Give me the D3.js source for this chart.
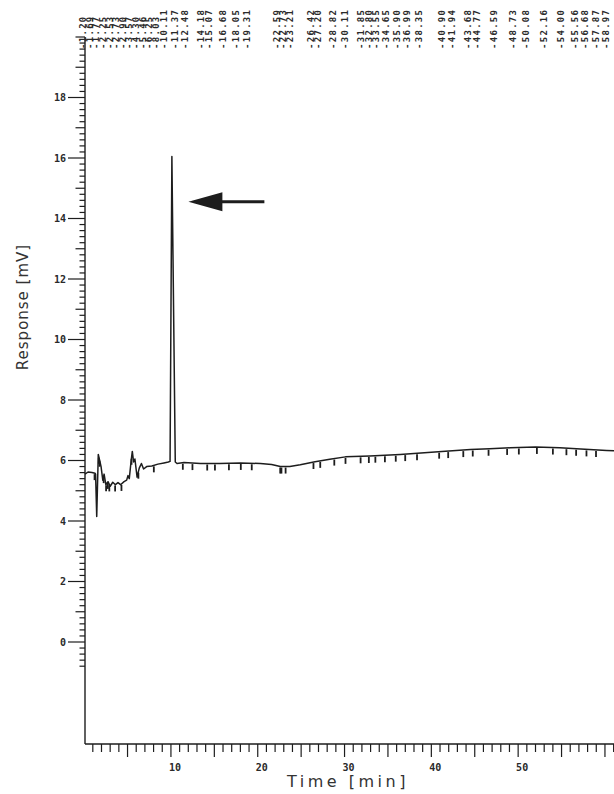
<!DOCTYPE html>
<html>
<head>
<meta charset="utf-8">
<script src="https://cdn.jsdelivr.net/npm/d3@7"></script>
<style>
  html, body { margin: 0; padding: 0; background: #fff; }
  svg { display: block; }
</style>
</head>
<body>
<svg id="chart" width="614" height="794"></svg>
<script>
// Detector trace: retention time (min) and response (mV)
const traceTime = [
  0.10, 0.45, 0.90, 1.25, 1.32, 1.45, 1.63, 1.83, 1.95, 2.15, 2.30, 2.50, 2.75,
  3.00, 3.30, 3.60, 3.90, 4.20, 4.60, 4.90, 5.05, 5.20, 5.40, 5.55, 5.70, 5.85,
  6.10, 6.35, 6.60, 6.85, 7.20, 7.80, 8.50, 9.20, 9.70, 9.90, 10.11, 10.50,
  10.70, 11.50, 13.40, 15.60, 18.00, 20.30, 21.60, 22.60, 23.70, 24.90, 26.60,
  28.30, 30.10, 32.90, 36.40, 40.80, 44.50, 46.70, 49.10, 52.00, 54.80, 57.70,
  60.20, 61.10
];
const traceResponse = [
  5.55, 5.62, 5.60, 5.58, 5.55, 4.15, 6.20, 5.95, 5.80, 5.35, 5.55, 5.20, 5.30,
  5.15, 5.28, 5.20, 5.27, 5.20, 5.30, 5.35, 5.50, 5.40, 5.95, 6.30, 5.95, 6.05,
  5.45, 5.75, 5.90, 5.72, 5.80, 5.82, 5.88, 5.92, 5.95, 5.97, 16.05, 5.95,
  5.90, 5.93, 5.90, 5.90, 5.92, 5.90, 5.87, 5.80, 5.80, 5.86, 5.96,
  6.04, 6.12, 6.15, 6.20, 6.29, 6.36, 6.39, 6.42, 6.45, 6.42, 6.37,
  6.33, 6.32
];

// Integrated peak retention times printed along the top strip
const peakTimes = [
  "1.20", "1.69", "1.77", "2.25", "2.53", "2.73", "2.90", "3.57", "4.30", "5.46", "6.25", "8.03",
  "10.11", "11.37", "12.48",
  "14.18", "15.07", "16.68", "18.05", "19.31",
  "22.59", "22.73", "23.21",
  "26.42", "27.20", "28.82", "30.11", "31.85", "32.80", "33.55", "34.65", "35.90", "36.99", "38.35",
  "40.90", "41.94", "43.68", "44.77",
  "46.59",
  "48.73", "50.08",
  "52.16",
  "54.00", "55.56", "56.68", "57.87", "58.97"
];

// Highlighted peak (arrow)
const markedPeakTime = 10.11;
const markedPeakArrowLevel = 14.55;

// Axis tick labels
const responseTickLabels = [0, 2, 4, 6, 8, 10, 12, 14, 16, 18];
const timeTickLabels = [10, 20, 30, 40, 50];

const W = 614, H = 794;
const ink = "#1d1d1d";
const svg = d3.select("#chart");

const x = d3.scaleLinear().domain([0.1, 61.1]).range([85, 614.5]);
const y = d3.scaleLinear().domain([0, 18]).range([642, 97.5]);
// the printed retention-time strip runs on its own slightly wider pitch
const xStrip = d3.scaleLinear().domain([0, 60]).range([72, 615]);

const frameLeft = x(0.1);
const frameBottom = 744;
const frameTop = y(20);

// ---- frame ----
svg.append("line")
  .attr("x1", frameLeft).attr("x2", frameLeft)
  .attr("y1", frameTop).attr("y2", frameBottom)
  .attr("stroke", ink).attr("stroke-width", 1.4);
svg.append("line")
  .attr("x1", frameLeft).attr("x2", W)
  .attr("y1", frameBottom).attr("y2", frameBottom)
  .attr("stroke", ink).attr("stroke-width", 1.4);

// ---- response axis: 0.2 mV minor ticks, 1 mV medium, 2 mV labelled ----
const yTickSteps = d3.range(-4, 101); // in units of 0.2 mV
svg.append("g").selectAll("line").data(yTickSteps).join("line")
  .attr("x1", i => {
    const labelled = i % 10 === 0 && i >= 0 && i <= 90;
    const len = labelled ? 17 : (i % 5 === 0 ? 9.5 : 5.5);
    return frameLeft - len;
  })
  .attr("x2", frameLeft)
  .attr("y1", i => y(i / 5)).attr("y2", i => y(i / 5))
  .attr("stroke", ink).attr("stroke-width", 1.2);

svg.append("g").selectAll("text").data(responseTickLabels).join("text")
  .attr("x", frameLeft - 19)
  .attr("y", d => y(d))
  .attr("dy", "0.35em")
  .attr("text-anchor", "end")
  .attr("font-family", "DejaVu Sans Mono")
  .attr("font-weight", "bold")
  .attr("font-size", 10)
  .attr("fill", "#2a2a2a")
  .text(d => d);

// ---- time axis: 1 min ticks hanging below, 5 min long ----
const xTickSteps = d3.range(1, 62);
svg.append("g").selectAll("line").data(xTickSteps).join("line")
  .attr("x1", t => x(t)).attr("x2", t => x(t))
  .attr("y1", frameBottom)
  .attr("y2", t => frameBottom + (t % 5 === 0 ? 13 : 8))
  .attr("stroke", ink).attr("stroke-width", 1.2);

svg.append("g").selectAll("text").data(timeTickLabels).join("text")
  .attr("x", t => x(t) + 4)
  .attr("y", 771)
  .attr("text-anchor", "middle")
  .attr("font-family", "DejaVu Sans Mono")
  .attr("font-weight", "bold")
  .attr("font-size", 10)
  .attr("fill", "#2a2a2a")
  .text(d => d);

// ---- axis titles ----
svg.append("text")
  .attr("x", 348).attr("y", 787)
  .attr("text-anchor", "middle")
  .attr("font-family", "DejaVu Sans")
  .attr("font-size", 16)
  .attr("letter-spacing", 3.5)
  .attr("fill", "#333")
  .text("Time [min]");

svg.append("text")
  .attr("transform", "translate(28,307) rotate(-90)")
  .attr("text-anchor", "middle")
  .attr("font-family", "DejaVu Sans")
  .attr("font-size", 15)
  .attr("letter-spacing", 1)
  .attr("fill", "#333")
  .text("Response [mV]");

// ---- trace ----
const trace = traceTime.map((t, i) => ({ t, v: traceResponse[i] }));
svg.append("path")
  .datum(trace)
  .attr("fill", "none")
  .attr("stroke", ink)
  .attr("stroke-width", 1.5)
  .attr("stroke-linejoin", "round")
  .attr("d", d3.line().x(d => x(d.t)).y(d => y(d.v)));

// integration marks under the baseline at each peak time
const bisect = d3.bisector(d => d.t).left;
function responseAt(t) {
  const i = Math.max(1, Math.min(trace.length - 1, bisect(trace, t)));
  const a = trace[i - 1], b = trace[i];
  const f = (t - a.t) / (b.t - a.t);
  return a.v + f * (b.v - a.v);
}
const markTimes = peakTimes.map(Number).filter(t => Math.abs(t - markedPeakTime) > 0.3);
svg.append("g").selectAll("line").data(markTimes).join("line")
  .attr("x1", t => x(t)).attr("x2", t => x(t))
  .attr("y1", t => y(responseAt(t)) + 1)
  .attr("y2", t => y(responseAt(t)) + 7)
  .attr("stroke", ink).attr("stroke-width", 1.8);

// ---- retention-time strip along the top ----
const stripPitch = 6.6;
let prevCol = -Infinity;
const stripCols = peakTimes.map(s => {
  const c = Math.max(xStrip(+s), prevCol + stripPitch);
  prevCol = c;
  return { s, c };
});
svg.append("g").selectAll("text").data(stripCols).join("text")
  .attr("transform", d => `translate(${d.c + 3.3},49) rotate(-90)`)
  .attr("font-family", "DejaVu Sans Mono")
  .attr("font-weight", "bold")
  .attr("font-size", 9)
  .attr("letter-spacing", 1.3)
  .attr("fill", "#2a2a2a")
  .text(d => "-" + d.s);

// ---- arrow pointing at the marked peak ----
const tipX = x(markedPeakTime) + 16.5;
const tipY = y(markedPeakArrowLevel);
svg.append("path")
  .attr("d", `M${tipX},${tipY} L${tipX + 34},${tipY - 9.5} L${tipX + 34},${tipY - 1.5}
              L${tipX + 76},${tipY - 1.5} L${tipX + 76},${tipY + 1.5} L${tipX + 34},${tipY + 1.5}
              L${tipX + 34},${tipY + 9.5} Z`)
  .attr("fill", ink);
</script>
</body>
</html>
